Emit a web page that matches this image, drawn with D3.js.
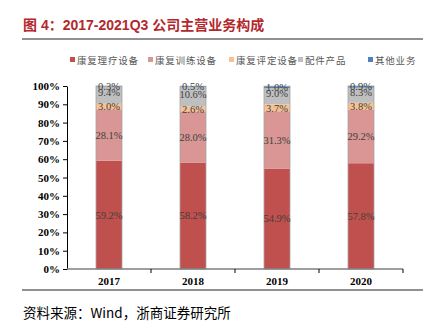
<!DOCTYPE html>
<html><head><meta charset="utf-8">
<script src="https://cdn.jsdelivr.net/npm/d3@7"></script>
<style>body{margin:0;background:#fff}svg{display:block}</style>
</head><body>
<svg id="c" width="432" height="329"></svg>
<script>
const categories = ["2017", "2018", "2019", "2020"];
const seriesNames = ["康复理疗设备", "康复训练设备", "康复评定设备", "配件产品", "其他业务"];
const s1 = [59.2, 58.2, 54.9, 57.8];
const s2 = [28.1, 28.0, 31.3, 29.2];
const s3 = [3.0, 2.6, 3.7, 3.8];
const s4 = [9.4, 10.6, 9.0, 8.3];
const s5 = [0.3, 0.5, 1.0, 0.9];
const yTicks = [0, 10, 20, 30, 40, 50, 60, 70, 80, 90, 100];
const colors = ["#c0504d", "#d99694", "#fac090", "#bfbfbf", "#4f81bd"];

const svg = d3.select("#c");
const serifF = "'Liberation Serif','Times New Roman',serif";
const cjkF = "'Noto Sans CJK SC',sans-serif";

svg.append("text").attr("x", 23).attr("y", 30)
  .attr("font-family", "'Liberation Sans',Arial,'Noto Sans CJK SC',sans-serif")
  .attr("font-weight", "bold").attr("font-size", 14).attr("fill", "#b3282d")
  .text("图 4：2017-2021Q3 公司主营业务构成");
svg.append("line").attr("x1", 22).attr("x2", 423).attr("y1", 39).attr("y2", 39)
  .attr("stroke", "#222").attr("stroke-width", 1);

const x = d3.scaleBand().domain(categories).range([67, 403]).paddingInner(0).paddingOuter(0);
const y = d3.scaleLinear().domain([0, 100]).range([269, 86]);

const rows = categories.map((c, i) => ({cat: c, v: [s1[i], s2[i], s3[i], s4[i], s5[i]]}));
const keys = [0, 1, 2, 3, 4];
const stack = d3.stack().keys(keys).value((d, k) => d.v[k]);
const layers = stack(rows);

const bw = 26;
const g = svg.append("g");
layers.forEach((layer, li) => {
  g.selectAll(null).data(layer).enter().append("rect")
    .attr("x", d => x(d.data.cat) + x.bandwidth() / 2 - bw / 2)
    .attr("width", bw)
    .attr("y", d => y(d[1]))
    .attr("height", d => y(d[0]) - y(d[1]))
    .attr("fill", colors[li]);
});
g.selectAll(null).data(rows).enter().append("rect")
  .attr("x", d => x(d.cat) + x.bandwidth() / 2 - bw / 2)
  .attr("width", bw)
  .attr("y", d => y(d3.sum(d.v)))
  .attr("height", d => y(0) - y(d3.sum(d.v)))
  .attr("fill", "none").attr("stroke", "#a6a6a6").attr("stroke-width", 0.8);
layers.forEach((layer, li) => {
  g.selectAll(null).data(layer).enter().append("text")
    .attr("x", d => x(d.data.cat) + x.bandwidth() / 2)
    .attr("y", d => (y(d[0]) + y(d[1])) / 2 + (li === 3 ? -2.5 : 0))
    .attr("dy", "0.35em")
    .attr("text-anchor", "middle")
    .attr("font-family", serifF).attr("font-size", 10.5).attr("fill", "#404040")
    .text(d => d.data.v[li].toFixed(1) + "%");
});

const yAxis = d3.axisLeft(y).tickValues(yTicks).tickFormat(d => d + "%").tickSize(4).tickSizeOuter(0);
const ya = svg.append("g").attr("transform", "translate(67,0)").call(yAxis);
ya.select(".domain").attr("stroke", "#000");
ya.selectAll(".tick line").attr("stroke", "#000");
ya.selectAll("text").attr("font-family", serifF).attr("font-weight", "bold")
  .attr("font-size", 11).attr("fill", "#000").attr("x", -7);

const xa = svg.append("g").attr("transform", "translate(0,269)");
xa.append("line").attr("x1", 67).attr("x2", 403).attr("y1", 0).attr("y2", 0).attr("stroke", "#7f7f7f").attr("stroke-width", 1.5);
const tickPos = categories.slice(1).map(c => x(c)).concat([x.range()[1]]);
xa.selectAll(null).data(tickPos).enter().append("line")
  .attr("x1", d => d).attr("x2", d => d)
  .attr("y1", 0).attr("y2", 4).attr("stroke", "#000");
xa.selectAll(null).data(categories).enter().append("text")
  .attr("x", d => x(d) + x.bandwidth() / 2).attr("y", 16)
  .attr("text-anchor", "middle").attr("font-family", serifF).attr("font-weight", "bold")
  .attr("font-size", 11).attr("fill", "#000").text(d => d);

const legX = [70, 148, 229, 298, 368];
const leg = svg.append("g");
seriesNames.forEach((n, i) => {
  leg.append("rect").attr("x", legX[i]).attr("y", 57).attr("width", 5).attr("height", 5).attr("fill", colors[i]);
  leg.append("text").attr("x", legX[i] + 7).attr("y", 64).attr("font-family", cjkF)
    .attr("font-size", 9.5).attr("letter-spacing", 0.8).attr("fill", "#595959").text(n);
});

svg.append("line").attr("x1", 22).attr("x2", 423).attr("y1", 290).attr("y2", 290)
  .attr("stroke", "#222").attr("stroke-width", 1);
svg.append("text").attr("x", 23).attr("y", 318).attr("font-family", "'Noto Sans CJK SC',serif")
  .attr("font-size", 13.5).attr("fill", "#000").text("资料来源：Wind，浙商证券研究所");
</script>
</body></html>
